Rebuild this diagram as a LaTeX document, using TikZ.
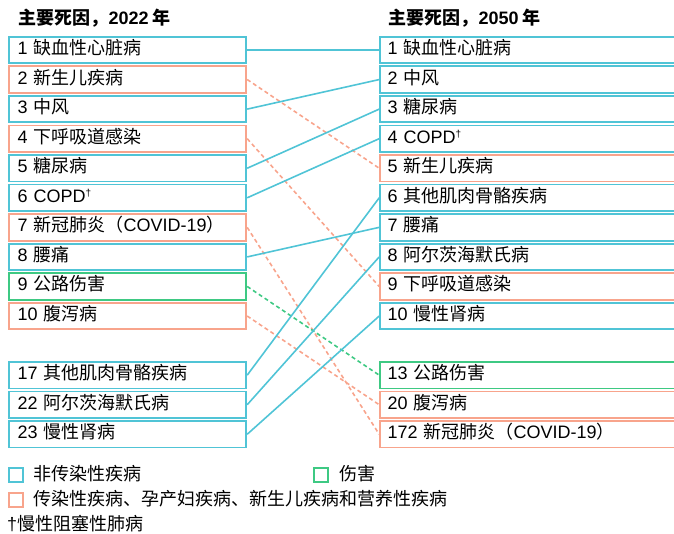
\documentclass[tikz,border=0pt]{standalone}
\usepackage{fontspec}
\setmainfont{Noto Sans CJK SC}
\newfontfamily\lt{Liberation Sans}
\definecolor{cblue}{RGB}{80,196,214}
\definecolor{csalmon}{RGB}{248,164,140}
\definecolor{cgreen}{RGB}{62,201,131}
\tikzset{
  base/.style={draw, line width=1.8pt, minimum height=26.5pt, inner ysep=0pt, align=left, anchor=west,
    font=\fontsize{18}{20}\selectfont, text height=13pt, text depth=4pt},
  lbox/.style={base, inner xsep=8.5pt, text width=220.2pt},
  rbox/.style={base, inner xsep=7.5pt, text width=300pt},
  nc/.style={draw=cblue},
  cd/.style={draw=csalmon},
  inj/.style={draw=cgreen},
  solidline/.style={cblue, line width=1.6pt},
  dashline/.style={csalmon, line width=1.6pt, dash pattern=on 4pt off 3pt},
  greenline/.style={cgreen, line width=1.6pt, dash pattern=on 4pt off 3pt},
  title/.style={anchor=west, font=\fontsize{18}{20}\selectfont\bfseries},
  legsq/.style={draw, line width=1.8pt, minimum size=14.5pt, inner sep=0pt},
  legtxt/.style={anchor=west, font=\fontsize{18}{20}\selectfont, inner sep=0pt},
}
\newcommand{\dg}{\raisebox{6pt}{\lt\fontsize{10}{10}\selectfont †}}
\begin{document}
\begin{tikzpicture}[x=1pt,y=-1pt]
\clip (0,0) rectangle (674,534);
\useasboundingbox (0,0) rectangle (674,534);
\def\p{29.56}
% titles
\node[title] (t1) at (15,18) {主要死因，{\lt 2022} 年};
\node[title] (t2) at (385,18) {主要死因，{\lt 2050} 年};
% left boxes
\node[lbox,nc] (L1) at (8.2,50) {{\lt 1} 缺血性心脏病};
\node[lbox,cd] (L2) at (8.2,50+\p) {{\lt 2} 新生儿疾病};
\node[lbox,nc] (L3) at (8.2,50+2*\p) {{\lt 3} 中风};
\node[lbox,cd] (L4) at (8.2,50+3*\p) {{\lt 4} 下呼吸道感染};
\node[lbox,nc] (L5) at (8.2,50+4*\p) {{\lt 5} 糖尿病};
\node[lbox,nc] (L6) at (8.2,50+5*\p) {{\lt 6 COPD}\dg};
\node[lbox,cd] (L7) at (8.2,50+6*\p) {{\lt 7} 新冠肺炎（{\lt COVID-19}）};
\node[lbox,nc] (L8) at (8.2,50+7*\p) {{\lt 8} 腰痛};
\node[lbox,inj] (L9) at (8.2,50+8*\p) {{\lt 9} 公路伤害};
\node[lbox,cd] (L10) at (8.2,50+9*\p) {{\lt 10} 腹泻病};
\node[lbox,nc] (L17) at (8.2,50+11*\p) {{\lt 17} 其他肌肉骨骼疾病};
\node[lbox,nc] (L22) at (8.2,50+12*\p) {{\lt 22} 阿尔茨海默氏病};
\node[lbox,nc] (L23) at (8.2,50+13*\p) {{\lt 23} 慢性肾病};
% right boxes
\node[rbox,nc] (R1) at (379.2,50) {{\lt 1} 缺血性心脏病};
\node[rbox,nc] (R2) at (379.2,50+\p) {{\lt 2} 中风};
\node[rbox,nc] (R3) at (379.2,50+2*\p) {{\lt 3} 糖尿病};
\node[rbox,nc] (R4) at (379.2,50+3*\p) {{\lt 4 COPD}\dg};
\node[rbox,cd] (R5) at (379.2,50+4*\p) {{\lt 5} 新生儿疾病};
\node[rbox,nc] (R6) at (379.2,50+5*\p) {{\lt 6} 其他肌肉骨骼疾病};
\node[rbox,nc] (R7) at (379.2,50+6*\p) {{\lt 7} 腰痛};
\node[rbox,nc] (R8) at (379.2,50+7*\p) {{\lt 8} 阿尔茨海默氏病};
\node[rbox,cd] (R9) at (379.2,50+8*\p) {{\lt 9} 下呼吸道感染};
\node[rbox,nc] (R10) at (379.2,50+9*\p) {{\lt 10} 慢性肾病};
\node[rbox,inj] (R13) at (379.2,50+11*\p) {{\lt 13} 公路伤害};
\node[rbox,cd] (R20) at (379.2,50+12*\p) {{\lt 20} 腹泻病};
\node[rbox,cd] (R172) at (379.2,50+13*\p) {{\lt 172} 新冠肺炎（{\lt COVID-19}）};
% connectors
\draw[solidline] (L1.east) -- (R1.west);
\draw[dashline] (L2.east) -- (R5.west);
\draw[solidline] (L3.east) -- (R2.west);
\draw[dashline] (L4.east) -- (R9.west);
\draw[solidline] (L5.east) -- (R3.west);
\draw[solidline] (L6.east) -- (R4.west);
\draw[dashline] (L7.east) -- (R172.west);
\draw[solidline] (L8.east) -- (R7.west);
\draw[greenline] (L9.east) -- (R13.west);
\draw[dashline] (L10.east) -- (R20.west);
\draw[solidline] (L17.east) -- (R6.west);
\draw[solidline] (L22.east) -- (R8.west);
\draw[solidline] (L23.east) -- (R10.west);
% legend
\node[legsq,cblue] (q1) at (16,475) {};
\node[legtxt] (g1) at (33,474) {非传染性疾病};
\node[legsq,cgreen] (q2) at (321,475) {};
\node[legtxt] (g2) at (339,474) {伤害};
\node[legsq,csalmon] (q3) at (16,500) {};
\node[legtxt] (g3) at (33,499) {传染性疾病、孕产妇疾病、新生儿疾病和营养性疾病};
\node[legtxt] (g4) at (7,524) {{\lt †}慢性阻塞性肺病};
\end{tikzpicture}
\end{document}
